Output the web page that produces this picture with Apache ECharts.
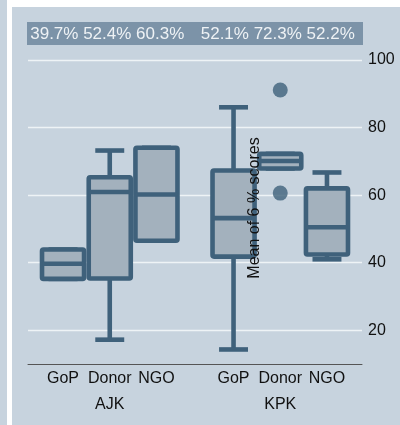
<!DOCTYPE html>
<html>
<head>
<meta charset="utf-8">
<script src="https://cdn.jsdelivr.net/npm/echarts@6/dist/echarts.min.js"></script>
<style>
  html, body { margin: 0; padding: 0; background: #ffffff; }
  #chart { width: 400px; height: 425px; }
</style>
</head>
<body>
<div id="chart"></div>
<script>
// Regions and providers shown on the x axis
const regions = ['AJK', 'KPK'];
const providers = ['GoP', 'Donor', 'NGO'];

// Box statistics per provider: [lower whisker, Q1, median, Q3, upper whisker]
const statsAJK = [
  [35.2, 35.2, 39.7, 43.9, 43.9],
  [17.2, 35.3, 60.9, 65.3, 73.2],
  [46.5, 46.5, 60.2, 74.0, 74.0]
];
const statsKPK = [
  [14.3, 41.8, 53.2, 67.3, 86.0],
  [67.9, 67.9, 70.1, 72.2, 72.2],
  [41.0, 42.4, 50.5, 62.0, 66.7]
];
// Outside values (KPK, Donor)
const outliersKPKDonor = [60.6, 91.1];

// Group means printed in the header strip (%)
const meansAJK = [39.7, 52.4, 60.3];
const meansKPK = [52.1, 72.3, 52.2];

// Y axis tick values and title
const yTicks = [20, 40, 60, 80, 100];
const yTitle = 'Mean of 6 % scores';

const FONT = 'Liberation Sans, Arial, sans-serif';
const PANEL = '#c7d3de';
const LINE = '#3f617b';
const FILL = '#a3b1bd';

// Layout of boxes along the x value axis (one unit per box)
const EDGE = 0.75, GROUP_GAP = 0.65;
function boxPos(g, i) { return EDGE + g * (providers.length + GROUP_GAP) + i; }
const xMax = boxPos(regions.length - 1, providers.length - 1) + EDGE;

const allStats = [statsAJK, statsKPK];
const boxData = [];
const labelPos = [];
allStats.forEach((grp, g) => {
  grp.forEach((s, i) => {
    boxData.push([boxPos(g, i)].concat(s));
    labelPos.push({ v: boxPos(g, i), name: providers[i] });
  });
});
const groupCenters = regions.map((r, g) => boxPos(g, 1));
const groupLabels = groupCenters.map((c, g) => ({ v: c, name: regions[g] }));
const outlierData = outliersKPKDonor.map(v => [boxPos(1, 1), v]);

function nameAt(list, value) {
  const hit = list.find(d => Math.abs(d.v - value) < 1e-6);
  return hit ? hit.name : '';
}

function renderBox(params, api) {
  const x = api.value(0);
  const lo = api.coord([x, api.value(1)]);
  const q1 = api.coord([x, api.value(2)]);
  const md = api.coord([x, api.value(3)]);
  const q3 = api.coord([x, api.value(4)]);
  const hi = api.coord([x, api.value(5)]);
  const unit = api.size([1, 0])[0];
  const hw = unit * 0.45;
  const cw = unit * 0.31;
  const cx = lo[0];
  const lw = 4.6;
  const st = { stroke: LINE, lineWidth: lw, lineCap: 'butt' };
  return {
    type: 'group',
    children: [
      { type: 'line', shape: { x1: cx, y1: q3[1], x2: cx, y2: hi[1] }, style: st },
      { type: 'line', shape: { x1: cx, y1: q1[1], x2: cx, y2: lo[1] }, style: st },
      { type: 'line', shape: { x1: cx - cw, y1: hi[1], x2: cx + cw, y2: hi[1] }, style: st },
      { type: 'line', shape: { x1: cx - cw, y1: lo[1], x2: cx + cw, y2: lo[1] }, style: st },
      {
        type: 'rect',
        shape: { x: cx - hw, y: q3[1], width: 2 * hw, height: q1[1] - q3[1], r: 1.5 },
        style: { fill: FILL, stroke: LINE, lineWidth: lw, lineJoin: 'round' }
      },
      { type: 'line', shape: { x1: cx - hw, y1: md[1], x2: cx + hw, y2: md[1] }, style: st }
    ]
  };
}

const chart = echarts.init(document.getElementById('chart'), null, { renderer: 'canvas' });

const option = {
  backgroundColor: '#ffffff',
  animation: false,
  textStyle: { fontFamily: FONT },
  grid: { left: 28, right: 38, top: 60, bottom: 61, containLabel: false, outerBoundsMode: 'none' },
  xAxis: [
    {
      type: 'value', min: 0, max: xMax,
      axisLine: { show: true, lineStyle: { color: '#555555', width: 1 } },
      axisTick: { show: false },
      splitLine: { show: false },
      axisLabel: {
        customValues: labelPos.map(d => d.v),
        formatter: v => nameAt(labelPos, v),
        margin: 7, color: '#111111', fontSize: 16, fontFamily: FONT
      }
    },
    {
      type: 'value', min: 0, max: xMax, position: 'bottom', offset: 26,
      axisLine: { show: false }, axisTick: { show: false }, splitLine: { show: false },
      axisLabel: {
        customValues: groupCenters,
        formatter: v => nameAt(groupLabels, v),
        margin: 7, color: '#111111', fontSize: 16, fontFamily: FONT
      }
    }
  ],
  yAxis: {
    type: 'value', position: 'right', min: 10, max: 100,
    axisLine: { show: false },
    axisTick: { show: false, customValues: yTicks },
    axisLabel: { customValues: yTicks, margin: 6, color: '#111111', fontSize: 16, fontFamily: FONT },
    splitLine: { show: true, lineStyle: { color: '#eef3f6', width: 1.3 } }
  },
  graphic: [
    { type: 'rect', z: -10, shape: { x: 0, y: 0, width: 7, height: 425 }, style: { fill: PANEL } },
    { type: 'rect', z: -10, shape: { x: 12, y: 7, width: 388, height: 418 }, style: { fill: PANEL } }
  ],
  series: [
    {
      type: 'custom', name: 'box', renderItem: renderBox, data: boxData,
      encode: { x: 0, y: [1, 2, 3, 4, 5] }, clip: false, z: 3
    },
    {
      type: 'scatter', name: 'outside', data: outlierData, symbol: 'circle', symbolSize: 15,
      itemStyle: { color: LINE }, z: 4
    }
  ]
};
chart.setOption(option);

// Header strip with the group means, centred over each region,
// plus the rotated y axis title inside the plot
const meanGroups = [meansAJK, meansKPK];
const overlay = [
  { type: 'rect', z: 5, shape: { x: 27, y: 22, width: 336, height: 23 }, style: { fill: '#7c93a8' } }
];
meanGroups.forEach((m, g) => {
  const px = chart.convertToPixel({ xAxisIndex: 0 }, groupCenters[g]);
  overlay.push({
    type: 'text', z: 6, x: px - 2.5, y: 34,
    style: {
      text: m.map(v => v.toFixed(1) + '%').join(' '),
      fill: '#eef2f5', font: '17px ' + FONT, align: 'center', verticalAlign: 'middle'
    }
  });
});
const yMid = chart.convertToPixel({ yAxisIndex: 0 }, 55);
overlay.push({
  type: 'text', z: 6, x: 255, y: yMid - 4, rotation: Math.PI / 2,
  style: { text: yTitle, fill: '#111111', font: '16px ' + FONT, align: 'center', verticalAlign: 'middle' }
});
chart.setOption({ graphic: option.graphic.concat(overlay) });
</script>
</body>
</html>
